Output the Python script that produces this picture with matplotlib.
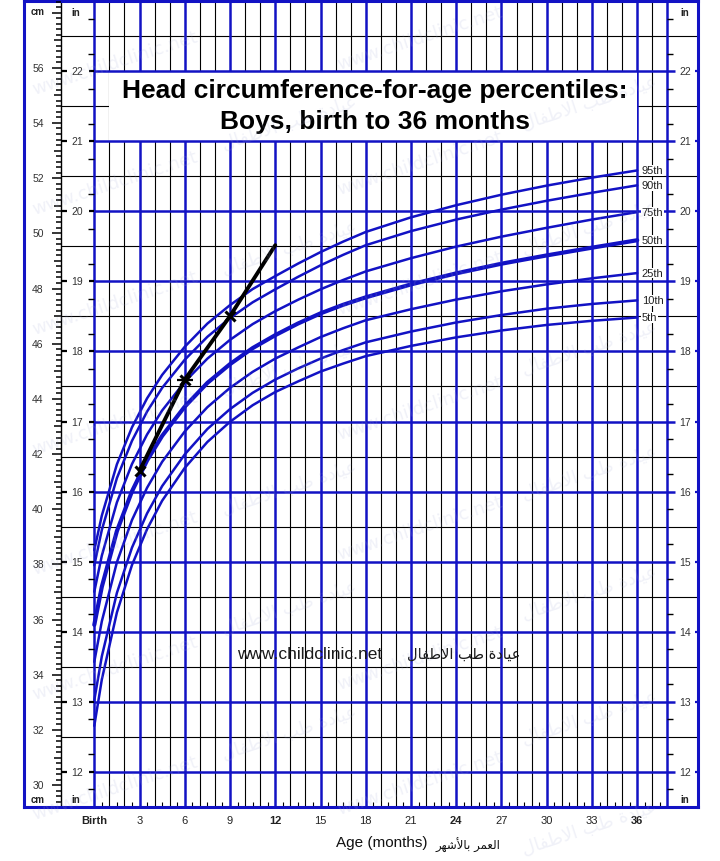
import matplotlib
matplotlib.use('Agg')
import matplotlib.pyplot as plt
from matplotlib.patches import Rectangle

# ---------------- data (head circumference, cm) ----------------
ages = [0, 0.5, 1.5, 2.5, 3.5, 4.5, 6, 7.5, 9, 10.5, 12, 13.5, 15, 16.5, 18, 21, 24, 27, 30, 33, 36]
p5  = [32.15, 33.83, 36.26, 37.98, 39.28, 40.31, 41.50, 42.44, 43.17, 43.77, 44.25, 44.63, 44.99, 45.28, 45.55, 45.92, 46.23, 46.48, 46.68, 46.83, 46.95]
p10 = [33.08, 34.67, 36.97, 38.61, 39.85, 40.84, 41.99, 42.91, 43.63, 44.22, 44.70, 45.10, 45.46, 45.77, 46.05, 46.44, 46.77, 47.04, 47.27, 47.44, 47.57]
p25 = [34.47, 35.94, 38.08, 39.61, 40.78, 41.72, 42.82, 43.70, 44.40, 44.98, 45.46, 45.86, 46.24, 46.56, 46.85, 47.25, 47.60, 47.90, 48.15, 48.37, 48.56]
p50 = [35.81, 37.19, 39.21, 40.65, 41.77, 42.66, 43.72, 44.58, 45.26, 45.84, 46.31, 46.73, 47.10, 47.41, 47.68, 48.15, 48.55, 48.90, 49.20, 49.48, 49.75]
p75 = [37.01, 38.32, 40.25, 41.64, 42.71, 43.58, 44.62, 45.46, 46.14, 46.71, 47.18, 47.59, 47.97, 48.31, 48.62, 49.10, 49.52, 49.88, 50.20, 50.50, 50.77]
p90 = [37.97, 39.25, 41.13, 42.48, 43.54, 44.40, 45.42, 46.25, 46.93, 47.50, 47.97, 48.42, 48.84, 49.22, 49.57, 50.08, 50.50, 50.86, 51.18, 51.47, 51.74]
p95 = [38.52, 39.77, 41.63, 42.97, 44.02, 44.87, 45.89, 46.73, 47.40, 47.98, 48.45, 48.90, 49.32, 49.70, 50.05, 50.58, 51.02, 51.40, 51.73, 52.02, 52.28]
pct_names = ['5th', '10th', '25th', '50th', '75th', '90th', '95th']

child_age = [3, 6, 9, 12]
child_hc = [41.4, 44.7, 47.0, 49.57]

x_ticks = [0, 3, 6, 9, 12, 15, 18, 21, 24, 27, 30, 33, 36]
x_labels = ['Birth', '3', '6', '9', '12', '15', '18', '21', '24', '27', '30', '33', '36']
bold_labels = ['Birth', '12', '24', '36']
cm_labels = [30, 32, 34, 36, 38, 40, 42, 44, 46, 48, 50, 52, 54, 56]
in_labels = [12, 13, 14, 15, 16, 17, 18, 19, 20, 21, 22]

title1 = 'Head circumference-for-age percentiles:'
title2 = 'Boys, birth to 36 months'
site = 'www.childclinic.net'
# Arabic written in presentation forms, visual order
arab_clinic = '\uFEDD\uFE8E\uFED4\uFEC3\uFEFB\uFE8D \uFE90\uFEC3 \uFE93\uFEA9\uFE8E\uFEF4\uFECB'
arab_age = '\uFEAE\uFEEC\uFEB7\uFEF7\uFE8E\uFE91 \uFEAE\uFEE4\uFECC\uFEDF\uFE8D'

# ---------------- figure ----------------
BLUE = '#1212c4'
INCH = 2.54
plt.rcParams['font.family'] = ['Liberation Sans', 'DejaVu Sans']

W, H = 720, 862
fig = plt.figure(figsize=(W / 100, H / 100), dpi=100)
fig.patch.set_facecolor('white')
L_PX, R_PX, T_PX, B_PX = 24, 698, 2, 808
ax = fig.add_axes([L_PX / W, 1 - B_PX / H, (R_PX - L_PX) / W, (B_PX - T_PX) / H])
X0, X1 = -4.66, 40.03
Y0, Y1 = 11.5 * INCH, 23 * INCH
ax.set_xlim(X0, X1)
ax.set_ylim(Y0, Y1)
ax.set_facecolor('white')


def px2x(px):
    return X0 + (px - L_PX) / (R_PX - L_PX) * (X1 - X0)


def py2y(py):
    return Y1 - (py - T_PX) / (B_PX - T_PX) * (Y1 - Y0)


XDIV = px2x(60.5)   # cm / in column divider

# vertical grid
thin_months = [m for m in range(1, 38) if m % 3 != 0]
ax.vlines(thin_months, Y0, Y1, color='black', lw=0.8, zorder=1)
ax.vlines(list(range(0, 37, 3)) + [38], Y0, Y1, color=BLUE, lw=1.8, zorder=1.5)
ax.vlines([XDIV], Y0, Y1, color='black', lw=1.0, zorder=1)

# horizontal grid: half inches black, inches blue
half = [(n + 0.5) * INCH for n in range(12, 23)]
ax.hlines(half, XDIV, X1, color='black', lw=0.8, zorder=1)
inches = [n * INCH for n in in_labels]
ax.hlines(inches, 0, 38.5, color=BLUE, lw=1.8, zorder=3)
ax.hlines(inches, XDIV, px2x(67), color='black', lw=1.6, zorder=3)
ax.hlines(inches, px2x(89), 0, color='black', lw=1.6, zorder=3)
ax.hlines(inches, px2x(695), X1, color=BLUE, lw=1.6, zorder=3)
quarters = [(n + f) * INCH for n in range(11, 23) for f in (0.25, 0.75) if Y0 < (n + f) * INCH < Y1]
ax.hlines(quarters, px2x(88), 0, color='black', lw=1.0, zorder=3)
ax.hlines(quarters, 38, px2x(673), color='black', lw=1.0, zorder=3)

# cm ticks (every 2 mm)
for k in range(294, 585, 2):
    v = k / 10
    if k % 20 == 0:
        ln = 8.5
    elif k % 10 == 0:
        ln = 7
    else:
        ln = 4.5
    ax.plot([px2x(60.5 - ln), XDIV], [v, v], color='black', lw=1.1, zorder=3,
            solid_capstyle='butt')

# scale labels
for c in cm_labels:
    ax.text(px2x(38), c, str(c), ha='center', va='center', fontsize=7.5, color='#333333')
for n in in_labels:
    ax.text(px2x(77), n * INCH, str(n), ha='center', va='center', fontsize=7.5,
            color='#333333', bbox=dict(fc='white', ec='none', pad=0.3), zorder=4)
    ax.text(px2x(685), n * INCH, str(n), ha='center', va='center', fontsize=7.5,
            color='#333333', bbox=dict(fc='white', ec='none', pad=0.3), zorder=4)
for (txt, px, py) in [('cm', 38, 12), ('in', 76, 13), ('in', 685, 13),
                      ('cm', 38, 800), ('in', 76, 800), ('in', 685, 800)]:
    ax.text(px2x(px), py2y(py), txt, ha='center', va='center', fontsize=7,
            fontweight='bold', color='#222222', zorder=4)

# title box
ax.add_patch(Rectangle((1, 21 * INCH), 35, INCH, fc='white', ec='none', zorder=2))
ax.text(18.6, py2y(91), title1, ha='center', va='center', fontsize=19,
        fontweight='bold', color='black', zorder=5)
ax.text(18.6, py2y(122), title2, ha='center', va='center', fontsize=19,
        fontweight='bold', color='black', zorder=5)

# percentile curves
series = [p5, p10, p25, p50, p75, p90, p95]
for name, vals in zip(pct_names, series):
    ax.plot(ages, vals, color=BLUE, lw=3.0 if name == '50th' else 1.8, zorder=4,
            solid_capstyle='round', solid_joinstyle='round')
    ax.text(36.3, vals[-1], name, ha='left', va='center', fontsize=8, color='#222222',
            bbox=dict(fc='white', ec='none', pad=0.2), zorder=5)

# child's measurements
ax.plot(child_age, child_hc, color='black', lw=2.8, zorder=6, solid_capstyle='round')
ax.plot(child_age[:3], child_hc[:3], ls='none', marker='x', ms=7, mew=2.2, color='black', zorder=7)
ax.plot(child_age[1:2], child_hc[1:2], ls='none', marker='_', ms=12, mew=1.6, color='black', zorder=7)

# axes, ticks, frame
for s in ax.spines.values():
    s.set_color(BLUE)
    s.set_linewidth(2.2)
ax.set_yticks([])
ax.set_xticks(x_ticks)
ax.set_xticklabels(x_labels)
ax.set_xticks([m + 0.5 for m in range(0, 38)], minor=True)
ax.tick_params(axis='x', which='major', length=0, pad=6, labelsize=8, labelcolor='#222222')
ax.tick_params(axis='x', which='minor', direction='in', length=3.5, width=0.8, color='black')
for lab in ax.get_xticklabels():
    if lab.get_text() in bold_labels:
        lab.set_fontweight('bold')

# bottom axis title
fig.text(382 / W, 1 - 843 / H, 'Age (months)', ha='center', va='center', fontsize=11, color='#111111')
fig.text(436 / W, 1 - 845 / H, arab_age, ha='left', va='center', fontsize=8.5,
         color='#111111', family=['DejaVu Sans'])

# centre site text
fig.text(237 / W, 1 - 655 / H, site, ha='left', va='center', fontsize=12.5, color='#1a1a1a')
fig.text(407 / W, 1 - 654 / H, arab_clinic, ha='left', va='center', fontsize=10.5, color='#1a1a1a',
         family=['DejaVu Sans'])

# faint tiled watermark
marks = [(site, 30, 95), (site, 335, 70), (arab_clinic, 220, 150), (arab_clinic, 520, 130),
         (site, 30, 215), (site, 335, 195), (arab_clinic, 220, 275), (arab_clinic, 520, 255),
         (site, 30, 335), (site, 335, 315), (arab_clinic, 220, 395), (arab_clinic, 520, 375),
         (site, 30, 455), (site, 335, 440), (arab_clinic, 220, 515), (arab_clinic, 520, 500),
         (site, 30, 575), (site, 335, 560), (arab_clinic, 220, 635), (arab_clinic, 520, 620),
         (site, 30, 700), (site, 335, 690), (arab_clinic, 220, 760), (arab_clinic, 520, 745),
         (site, 30, 820), (site, 335, 815), (arab_clinic, 520, 855)]
for txt, px, py in marks:
    fig.text(px / W, 1 - py / H, txt, ha='left', va='baseline', fontsize=13, rotation=18,
             color='#a4abd6', alpha=0.16, family=['DejaVu Sans'], zorder=10)

fig.savefig('out.png', dpi=100, facecolor='white')
